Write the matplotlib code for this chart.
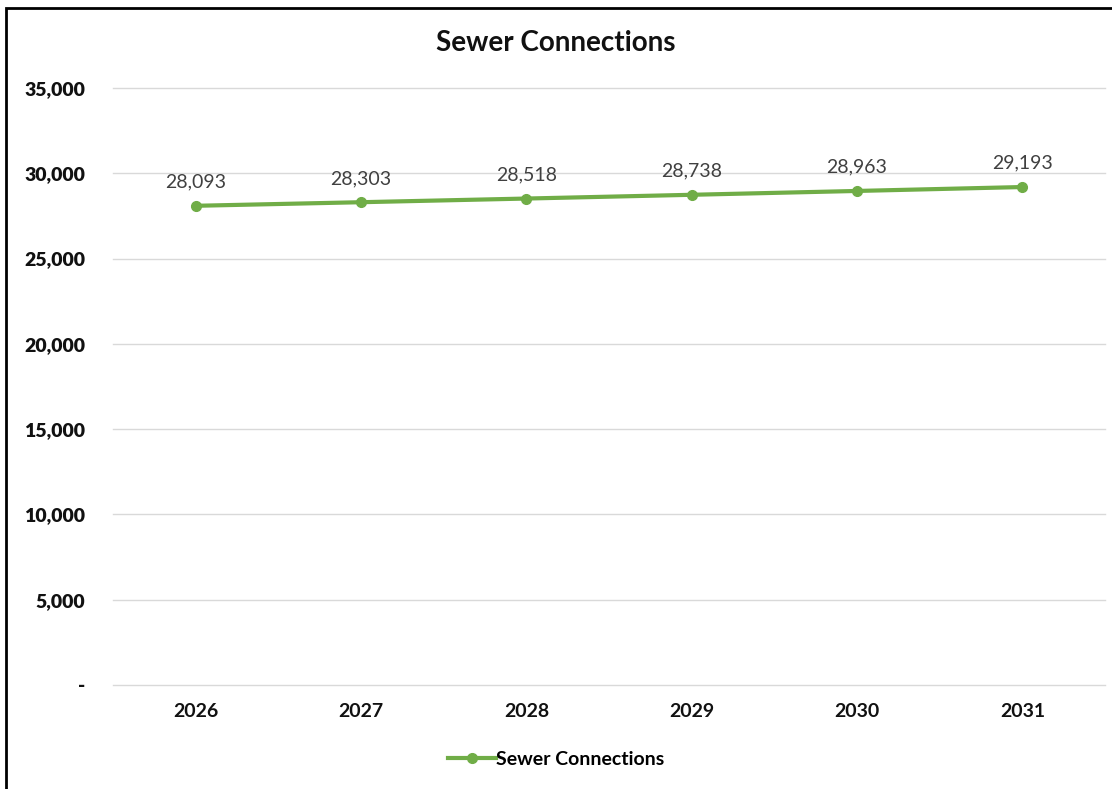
import matplotlib.pyplot as plt
from matplotlib.patches import Rectangle

plt.rcParams['font.family'] = ['Lato', 'DejaVu Sans']

# Data
years = ['2026', '2027', '2028', '2029', '2030', '2031']
connections = [28093, 28303, 28518, 28738, 28963, 29193]
y_ticks = [0, 5000, 10000, 15000, 20000, 25000, 30000, 35000]

green = '#70AD47'

fig = plt.figure(figsize=(11.12, 7.89), dpi=100)
ax = fig.add_axes([0.1016, 0.1318, 0.8921, 0.7567])

x = list(range(len(years)))
ax.plot(x, connections, color=green, linewidth=3, marker='o', markersize=7,
        label='Sewer Connections', zorder=3)

for xi, v in zip(x, connections):
    ax.annotate(f'{v:,}', (xi, v), xytext=(0, 11), textcoords='offset points',
                ha='center', va='bottom', fontsize=14, color='#404040')

ax.set_xlim(-0.5, len(years) - 0.5)
ax.set_ylim(0, 35000)
ax.set_xticks(x)
ax.set_xticklabels(years, fontsize=14, fontweight='bold', color='#111111')
ax.set_yticks(y_ticks)
ax.set_yticklabels(['-' if t == 0 else f'{t:,}' for t in y_ticks],
                   fontsize=14, fontweight='heavy', color='#111111')
ax.tick_params(axis='both', length=0)
ax.tick_params(axis='y', pad=20)
ax.tick_params(axis='x', pad=13)
ax.grid(axis='y', color='#D9D9D9', linewidth=1)
for gl in ax.get_ygridlines():
    gl.set_clip_on(False)
ax.set_axisbelow(True)
for s in ax.spines.values():
    s.set_visible(False)

fig.text(0.5, 0.945, 'Sewer Connections', ha='center', va='center',
         fontsize=20, fontweight='bold', color='#111111')

fig.legend(loc='center', bbox_to_anchor=(0.5, 0.038), frameon=False,
           handlelength=2.5, handletextpad=0.0,
           prop={'weight': 'bold', 'size': 14})

# outer frame (only left and top edges fall inside the picture)
fig.patches.append(Rectangle((0.005, -0.1), 1.2, 1.09,
                             transform=fig.transFigure, fill=False,
                             edgecolor='black', linewidth=2))

fig.savefig('out.png', dpi=100)
